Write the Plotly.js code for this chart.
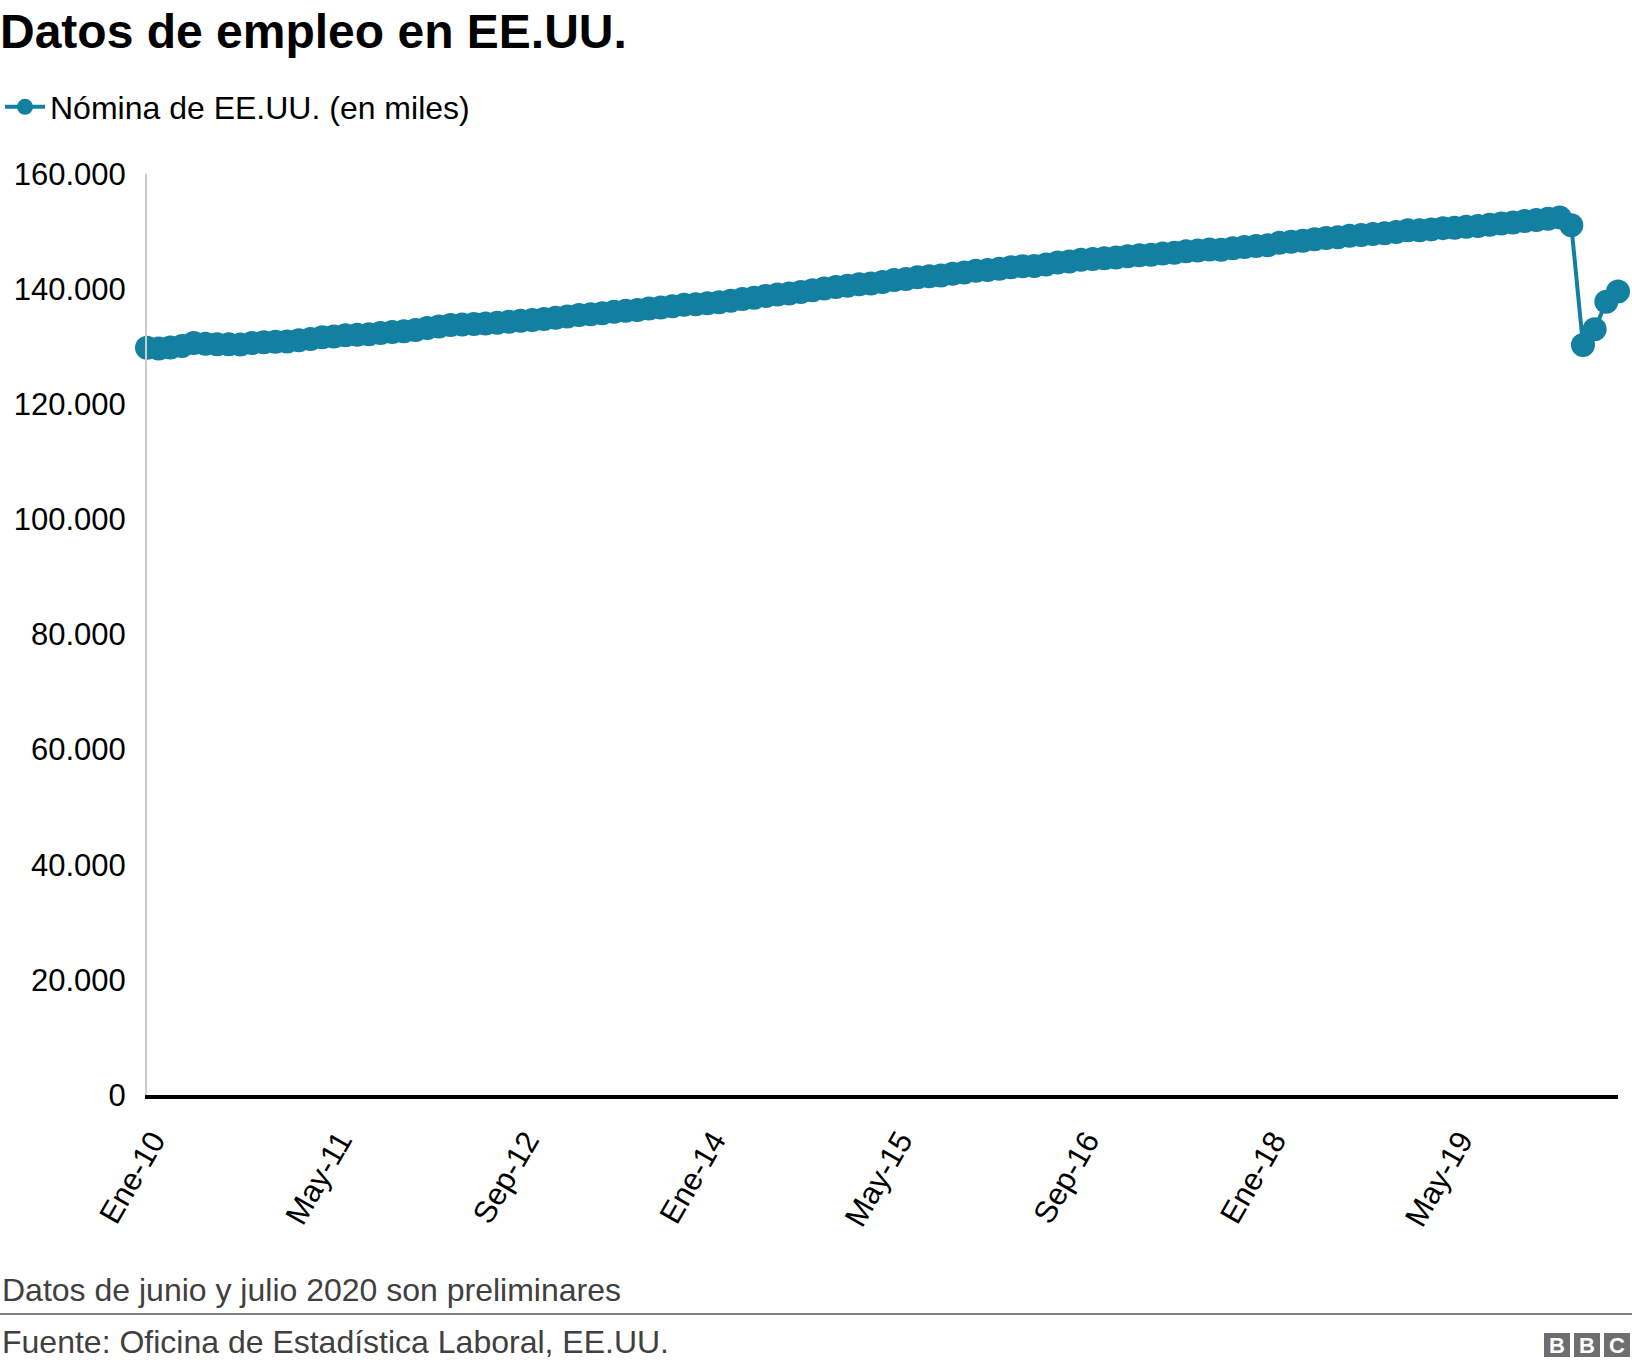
<!DOCTYPE html>
<html>
<head>
<meta charset="utf-8">
<script src="https://cdn.plot.ly/plotly-3.0.1.min.js"></script>
<style>html,body{margin:0;padding:0;background:#fff;}#chart{width:1632px;height:1368px;}</style>
</head>
<body>
<div id="chart"></div>
<script>
// Month labels (Spanish abbreviations) and years covered
const monthNames = ["Ene","Feb","Mar","Abr","May","Jun","Jul","Ago","Sep","Oct","Nov","Dic"];
const years = ["10","11","12","13","14","15","16","17","18","19","20"];

// US nonfarm payroll, thousands, Jan 2010 - Jul 2020
const payroll2010 = [129798,129705,129865,130120,130650,130493,130411,130403,130378,130634,130767,130854];
const payroll2011 = [130900,131101,131326,131654,131756,131982,132061,132143,132369,132570,132699,132896];
const payroll2012 = [133258,133509,133765,133841,133941,134009,134172,134349,134516,134654,134799,135042];
const payroll2013 = [135232,135514,135640,135828,136054,136231,136358,136614,136804,137026,137277,137352];
const payroll2014 = [137538,137700,137970,138286,138517,138825,139051,139249,139519,139803,140112,140372];
const payroll2015 = [140567,140843,140957,141237,141571,141777,142066,142224,142357,142682,142902,143176];
const payroll2016 = [143303,143559,143798,143991,144000,144290,144645,144799,145087,145215,145356,145476];
const payroll2017 = [145696,145896,145983,146199,146329,146561,146727,146892,146853,147101,147317,147489];
const payroll2018 = [147618,148042,148224,148413,148673,148882,149002,149278,149386,149573,149711,149938];
const payroll2019 = [150207,150208,150380,150596,150647,150838,150977,151184,151392,151577,151838,152022];
const payroll2020 = [152236,152463,151090,130303,133028,137809,139582];

const tickLabels = ["Ene-10","May-11","Sep-12","Ene-14","May-15","Sep-16","Ene-18","May-19"];
const yTicks = [0,20000,40000,60000,80000,100000,120000,140000,160000];

const seriesName = "Nómina de EE.UU. (en miles)";
const titleText = "Datos de empleo en EE.UU.";
const noteText = "Datos de junio y julio 2020 son preliminares";
const sourceText = "Fuente: Oficina de Estadística Laboral, EE.UU.";

const values = [].concat(payroll2010,payroll2011,payroll2012,payroll2013,payroll2014,
  payroll2015,payroll2016,payroll2017,payroll2018,payroll2019,payroll2020);
const categories = [];
for (let i = 0; i < values.length; i++) {
  categories.push(monthNames[i % 12] + "-" + years[Math.floor(i / 12)]);
}

const FONT = "Liberation Sans, Arial, Helvetica, sans-serif";
const TEAL = "#1380A1";

// layout geometry (pixels)
const W = 1632, H = 1368;
const mL = 147, mR = 14, mT = 174, mB = 273;
const plotW = W - mL - mR, plotH = H - mT - mB;
const px2paperX = x => (x - mL) / plotW;
const px2paperY = y => (H - mB - y) / plotH;

const trace = {
  type: "scatter",
  mode: "lines+markers",
  x: categories,
  y: values,
  name: seriesName,
  line: {color: TEAL, width: 4},
  marker: {color: TEAL, size: 24, line: {width: 0}},
  cliponaxis: false,
  hoverinfo: "skip"
};

const shapes = [
  {type: "line", xref: "paper", yref: "paper", x0: px2paperX(0), x1: px2paperX(W),
   y0: px2paperY(1314), y1: px2paperY(1314), line: {color: "#808080", width: 2}}
];
const annotations = [
  {xref: "paper", yref: "paper", x: px2paperX(0), y: px2paperY(1290), xanchor: "left", yanchor: "middle",
   text: noteText, showarrow: false, font: {family: FONT, size: 32, color: "#404040"}},
  {xref: "paper", yref: "paper", x: px2paperX(0), y: px2paperY(1342), xanchor: "left", yanchor: "middle",
   text: sourceText, showarrow: false, font: {family: FONT, size: 32, color: "#404040"}}
];
// BBC blocks
const logoLetters = ["B","B","C"];
for (let i = 0; i < 3; i++) {
  const x0 = 1544 + i * 30;
  shapes.push({type: "rect", xref: "paper", yref: "paper", x0: px2paperX(x0), x1: px2paperX(x0 + 26),
    y0: px2paperY(1333), y1: px2paperY(1357), fillcolor: "#6e6e6e", line: {width: 0}});
  annotations.push({xref: "paper", yref: "paper", x: px2paperX(x0 + 13), y: px2paperY(1345),
    xanchor: "center", yanchor: "middle", text: "<b>" + logoLetters[i] + "</b>", showarrow: false,
    font: {family: FONT, size: 22, color: "#ffffff"}});
}

const layout = {
  width: W, height: H,
  paper_bgcolor: "#ffffff", plot_bgcolor: "#ffffff",
  separators: ",.",
  margin: {l: mL, r: mR, t: mT, b: mB, autoexpand: false},
  font: {family: FONT, size: 31, color: "#000000"},
  title: {
    text: "<b>" + titleText + "</b>",
    xref: "container", yref: "container", x: 0, xanchor: "left",
    y: 1 - 31 / H, yanchor: "middle",
    font: {family: FONT, size: 48, color: "#000000"}
  },
  showlegend: true,
  legend: {
    orientation: "h", xref: "container", yref: "container",
    x: 0, xanchor: "left", y: 1 - 107 / H, yanchor: "middle",
    itemwidth: 40,
    font: {family: FONT, size: 32, color: "#000000"},
    bgcolor: "rgba(0,0,0,0)", borderwidth: 0
  },
  xaxis: {
    type: "category",
    range: [0, values.length - 1],
    tickmode: "array",
    tickvals: tickLabels,
    ticktext: tickLabels,
    tickangle: -60,
    ticks: "",
    ticklabelstandoff: 11,
    ticklabelshift: 6,
    showgrid: false,
    zeroline: false,
    showline: true, linecolor: "#000000", linewidth: 4,
    tickfont: {family: FONT, size: 31, color: "#000000"},
    fixedrange: true
  },
  yaxis: {
    range: [0, 160000],
    tickmode: "array",
    tickvals: yTicks,
    tickformat: ",d",
    ticks: "",
    ticklabelstandoff: 13,
    showgrid: false,
    zeroline: false,
    showline: true, linecolor: "#cccccc", linewidth: 2,
    tickfont: {family: FONT, size: 31, color: "#000000"},
    fixedrange: true
  },
  shapes: shapes,
  annotations: annotations
};

Plotly.newPlot("chart", [trace], layout, {staticPlot: true, displayModeBar: false});
</script>
</body>
</html>
